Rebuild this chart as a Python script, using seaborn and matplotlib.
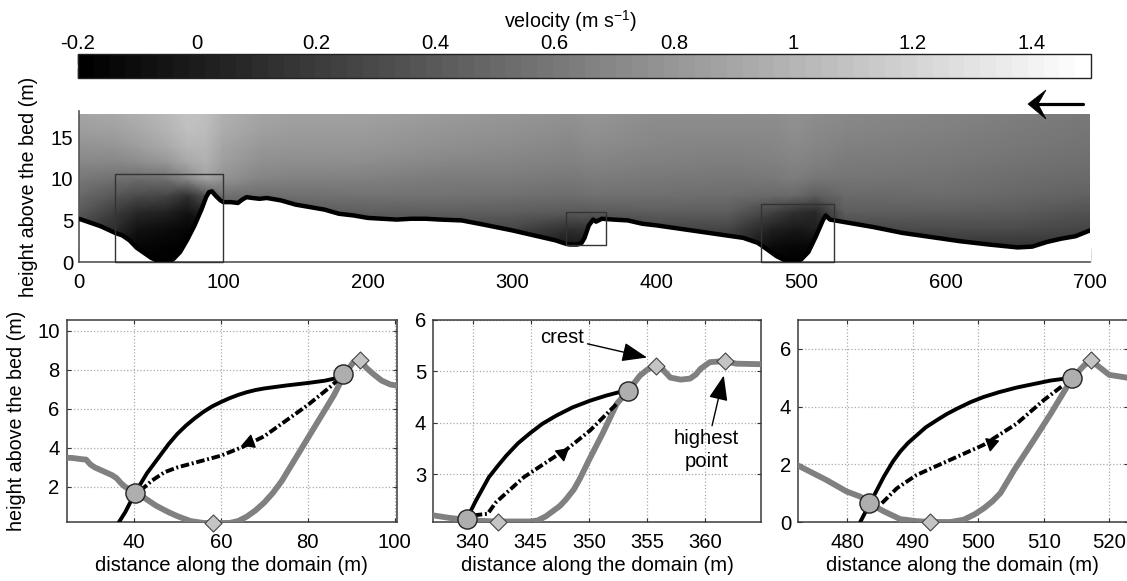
import matplotlib
matplotlib.use('Agg')
import matplotlib.pyplot as plt
import seaborn as sns
import numpy as np
from matplotlib.patches import Rectangle, Polygon
from matplotlib.cm import ScalarMappable
from matplotlib.colors import Normalize

# velocity field (m/s)
field_x = [0, 25, 40, 60, 75, 88, 100, 125, 150, 200, 250, 300, 340, 355, 400, 450, 480, 495, 510, 530, 600, 650, 700]
field_z = [0, 2, 4, 6, 8, 10, 12, 14, 16, 18]
field_v = [
    [-.20, -.20, -.20, -.20, -.20, -.20, -.20, -.20, -.20, -.20, -.20, -.20, -.20, -.20, -.20, -.20, -.20, -.20, -.20, -.20, -.20, -.20, -.20],
    [.05, -.05, -.15, -.18, -.19, -.19, .05, .05, .05, .10, .10, .12, -.05, .00, .12, .12, -.12, -.15, -.15, .12, .15, .15, .15],
    [.24, .10, -.07, -.12, -.16, -.17, .18, .18, .22, .26, .26, .27, .12, .15, .27, .26, .02, -.03, .00, .28, .30, .30, .26],
    [.40, .20, .07, .03, -.07, .05, .36, .35, .40, .43, .43, .43, .40, .40, .43, .42, .24, .12, .07, .42, .43, .41, .35],
    [.50, .38, .30, .27, .13, .35, .55, .52, .55, .57, .56, .55, .53, .55, .54, .53, .50, .50, .42, .51, .52, .49, .45],
    [.60, .55, .52, .55, .70, .88, .78, .68, .66, .65, .62, .62, .60, .62, .60, .59, .60, .63, .59, .58, .56, .53, .50],
    [.70, .70, .73, .80, .92, .98, .85, .76, .74, .74, .70, .68, .66, .68, .65, .64, .65, .68, .65, .62, .60, .57, .54],
    [.78, .80, .85, .93, 1.02, 1.02, .90, .82, .80, .80, .76, .73, .70, .73, .69, .68, .69, .72, .69, .66, .63, .60, .57],
    [.85, .88, .92, 1.00, 1.08, 1.05, .95, .87, .84, .84, .80, .77, .74, .77, .72, .72, .72, .75, .72, .69, .66, .62, .59],
    [.90, .93, .97, 1.03, 1.10, 1.07, .97, .90, .87, .87, .83, .80, .77, .80, .74, .74, .74, .77, .74, .71, .68, .64, .61],
]

# bed along the whole domain
bed_x = [0, 5, 10, 15, 20, 25, 30, 35, 40, 45, 50, 55, 60, 65, 70, 75, 80, 85, 88, 90, 92, 95, 98, 100, 105, 110,
         113, 116, 120, 125, 130, 140, 150, 160, 170, 180, 190, 200, 210, 220, 230, 240, 250, 265, 280, 300, 320,
         330, 337, 340, 345, 348, 350, 353, 356, 358, 362, 370, 380, 390, 400, 420, 440, 460, 470, 475, 483, 490,
         495, 500, 505, 510, 515, 517, 520, 530, 550, 570, 590, 610, 630, 650, 660, 670, 680, 690, 700]
bed_z = [5.2, 4.9, 4.6, 4.3, 3.9, 3.5, 3.2, 2.6, 1.7, 1.1, .5, .1, 0, .3, 1.2, 2.7, 4.4, 6.4, 7.8, 8.4, 8.5, 7.9, 7.4, 7.2, 7.2, 7.1,
         7.5, 7.8, 7.7, 7.6, 7.7, 7.4, 6.9, 6.6, 6.3, 5.8, 5.6, 5.3, 5.2, 5.1, 5.2, 5.2, 5.1, 5.0, 4.5, 3.8, 3.0,
         2.6, 2.2, 2.1, 2.1, 2.3, 2.9, 4.4, 5.1, 4.85, 5.2, 5.1, 5.0, 4.6, 4.4, 3.9, 3.4, 2.9, 2.3, 1.7, .7, .1,
         0, .3, 1.2, 3.0, 5.0, 5.6, 5.1, 4.8, 4.2, 3.5, 3.0, 2.5, 2.1, 1.75, 1.85, 2.4, 2.8, 3.1, 3.8]

# first dune
d1_bed_x = [24.5, 26, 28, 29, 30, 31, 33, 35, 36, 37, 38, 40, 42, 45, 48, 50, 53, 56, 58.5, 62, 64, 66, 68, 70, 72, 74, 77, 80, 83, 86, 88.5, 90.5, 92, 93.5, 95, 97, 99, 100.5]
d1_bed_z = [3.5, 3.48, 3.42, 3.4, 3.15, 3.0, 2.8, 2.6, 2.45, 2.2, 2.0, 1.75, 1.5, 1.05, .7, .5, .25, .15, .15, .15, .25, .48, .8, 1.2, 1.7, 2.3, 3.4, 4.5, 5.6, 6.7, 7.8, 8.4, 8.5, 8.1, 7.8, 7.45, 7.25, 7.2]
d1_top_x = [36.5, 38, 40.3, 43, 46, 48, 50, 52, 54, 56, 58, 60, 62, 64, 66, 68, 70, 75, 80, 84, 86, 88.5]
d1_top_z = [.17, .7, 1.7, 2.7, 3.6, 4.2, 4.72, 5.15, 5.52, 5.85, 6.13, 6.35, 6.55, 6.72, 6.86, 6.97, 7.05, 7.2, 7.33, 7.45, 7.55, 7.8]
d1_mid_x = [41.5, 44, 47, 50, 55, 60, 65, 70, 75, 80, 85, 87.5]
d1_mid_z = [1.8, 2.3, 2.75, 3.0, 3.3, 3.6, 4.05, 4.6, 5.4, 6.2, 7.1, 7.6]

# second dune
d2_bed_x = [336.6, 338, 340, 342, 345, 345.6, 346.3, 346.9, 347.5, 348, 348.7, 349.2, 350, 351.2, 352.4, 353.4, 354.4, 355, 355.7, 356.3, 357, 357.9, 358.7, 359.2, 359.6, 360.4, 361.6, 362.7, 364.8]
d2_bed_z = [2.2, 2.15, 2.1, 2.08, 2.08, 2.1, 2.18, 2.28, 2.38, 2.5, 2.7, 2.9, 3.27, 3.8, 4.37, 4.63, 4.92, 5.03, 5.1, 5.05, 4.88, 4.84, 4.86, 4.94, 5.05, 5.18, 5.2, 5.15, 5.14]
d2_top_x = [339.5, 340.3, 341.4, 342.2, 342.9, 343.9, 344.9, 346, 347.2, 348.6, 350.1, 351.5, 353]
d2_top_z = [2.13, 2.49, 2.94, 3.17, 3.36, 3.6, 3.79, 3.98, 4.14, 4.3, 4.43, 4.53, 4.62]
d2_mid_x = [340.1, 341.3, 342, 344.4, 347.2, 347.8, 350.1, 352.4]
d2_mid_z = [2.2, 2.23, 2.45, 2.94, 3.36, 3.43, 3.85, 4.37]

# third dune
d3_bed_x = [472.4, 474.3, 476.8, 479.9, 482, 483.5, 485.6, 488.1, 490.6, 492.7, 495.8, 497.8, 499.5, 500.9, 502.2, 503.4, 505.5, 508.5, 511.1, 514.4, 516.2, 517.2, 518.5, 520, 522.8]
d3_bed_z = [1.97, 1.75, 1.46, 1.06, .88, .63, .37, .1, .03, 0, 0, .08, .27, .48, .72, 1, 1.8, 2.84, 3.76, 5, 5.43, 5.6, 5.37, 5.1, 5.0]
d3_top_x = [482, 483.5, 485.6, 487, 488.1, 489.3, 490.6, 492, 493.7, 495.2, 496.8, 498.8, 500.8, 503.2, 505.9, 511, 514.3]
d3_top_z = [0, .65, 1.57, 2.1, 2.44, 2.74, 3.0, 3.28, 3.53, 3.74, 3.93, 4.15, 4.33, 4.5, 4.66, 4.9, 5]
d3_mid_x = [485.3, 487.6, 490.6, 495.7, 500.8, 505.9, 510, 513]
d3_mid_z = [.65, 1.17, 1.63, 2.15, 2.67, 3.41, 4.22, 4.74]

# markers of each dune: circles, diamonds, direction triangle
d1_circ_x, d1_circ_z = [40.2, 88.2], [1.7, 7.8]
d1_diam_x, d1_diam_z = [58.2, 92], [.17, 8.5]
d1_tri = (66.5, 4.3, 110)
d2_circ_x, d2_circ_z = [339.5, 353.4], [2.12, 4.62]
d2_diam_x, d2_diam_z = [342.2, 355.8, 361.7], [2.07, 5.1, 5.2]
d2_tri = (347.7, 3.42, -50)
d3_circ_x, d3_circ_z = [483.4, 514.3], [.65, 5]
d3_diam_x, d3_diam_z = [492.6, 517.2], [0, 5.6]
d3_tri = (502, 2.75, 170)

cbar_ticks = [-0.2, 0, 0.2, 0.4, 0.6, 0.8, 1, 1.2, 1.4]
cbar_labels = ['-0.2', '0', '0.2', '0.4', '0.6', '0.8', '1', '1.2', '1.4']

sns.set_style('white')
plt.rcParams['font.family'] = ['Liberation Sans', 'DejaVu Sans']
plt.rcParams['mathtext.default'] = 'regular'
for key in ['text.color', 'axes.labelcolor', 'xtick.color', 'ytick.color']:
    plt.rcParams[key] = 'black'
FS = 14.6
EDGE = '#3a3a3a'
W, H = 1127, 581

fig = plt.figure(figsize=(W / 100, H / 100), dpi=100)


def px_axes(x0, y0, x1, y1):
    # axes from pixel box, y measured from the top of the image
    return fig.add_axes([x0 / W, 1 - y1 / H, (x1 - x0) / W, (y1 - y0) / H])


# colorbar
cax = px_axes(78, 54, 1091, 78)
sm = ScalarMappable(norm=Normalize(-0.2, 1.5), cmap=plt.get_cmap('gray', 64))
cb = fig.colorbar(sm, cax=cax, orientation='horizontal', ticks=cbar_ticks)
cb.ax.set_xticklabels(cbar_labels)
cb.ax.xaxis.set_ticks_position('both')
cb.ax.xaxis.set_label_position('top')
cb.ax.tick_params(axis='x', direction='in', length=7, width=1, color='#111111', labeltop=True, labelbottom=False, labelsize=FS, pad=1)
cb.outline.set_edgecolor('#222222')
cb.outline.set_linewidth(1)
fig.text(570 / W, 1 - 21 / H, 'velocity (m s$^{-1}$)', ha='center', va='center', fontsize=FS - 0.5)

# main panel
ax = px_axes(79, 114, 1090, 262)
ax.pcolormesh(field_x, field_z, np.array(field_v), shading='gouraud', cmap='gray', vmin=-0.2, vmax=1.5, rasterized=True)
ax.fill_between(bed_x, -1, bed_z, color='white', zorder=2)
sns.lineplot(x=bed_x, y=bed_z, ax=ax, color='black', linewidth=3.2, sort=False, estimator=None, zorder=3)
for x0, z0, w, h in [(25, 0, 75, 10.6), (337, 2.07, 28, 3.93), (472, 0, 51, 7)]:
    ax.add_patch(Rectangle((x0, z0), w, h, fill=False, edgecolor='#333333', linewidth=1, zorder=4, clip_on=False))
ax.set_xlim(0, 700)
ax.set_ylim(0, 17.8)
ax.set_xticks(range(0, 701, 100))
ax.set_yticks([0, 5, 10, 15])
ax.tick_params(axis='both', labelsize=FS)
ax.tick_params(axis='x', direction='in', length=10, width=1, color='#555555', bottom=True, pad=8)
ax.tick_params(axis='y', direction='in', length=0, pad=4)
sns.despine(ax=ax, top=True, right=True)
for s in ['left', 'bottom']:
    ax.spines[s].set_color('#555555')
    ax.spines[s].set_linewidth(1.2)
ax.spines['left'].set_bounds(0, 18.2)
ax.spines['left'].set_clip_on(False)
fig.text(29 / W, 1 - 187 / H, 'height above the bed (m)', rotation=90, ha='center', va='center', fontsize=FS - 0.4)

# flow direction arrow
fig.add_artist(plt.Line2D([1083 / W, 1038 / W], [1 - 104 / H, 1 - 104 / H], transform=fig.transFigure, color='black', linewidth=2.3))
head_px = [(1028, 104), (1046, 90), (1038, 104), (1046, 119)]
fig.add_artist(Polygon([(px / W, 1 - py / H) for px, py in head_px], closed=True, transform=fig.transFigure, facecolor='black', edgecolor='black', linewidth=0.5))


def dune_panel(box, xlim, ylim, xticks, yticks, bed, top, mid, circ, diam, tri):
    a = px_axes(*box)
    sns.lineplot(x=bed[0], y=bed[1], ax=a, color='#808080', linewidth=4.2, sort=False, estimator=None, zorder=3)
    sns.lineplot(x=top[0], y=top[1], ax=a, color='black', linewidth=2.8, sort=False, estimator=None, zorder=4)
    sns.lineplot(x=mid[0], y=mid[1], ax=a, color='black', linewidth=2.8, sort=False, estimator=None, zorder=4,
                 linestyle=(0, (2.2, 0.7, 0.5, 0.7)))
    sns.scatterplot(x=diam[0], y=diam[1], ax=a, marker='D', s=75, color='#c4c4c4', edgecolor='#444444', linewidth=0.8, zorder=5, clip_on=False)
    sns.scatterplot(x=circ[0], y=circ[1], ax=a, marker='o', s=190, color='#aeaeae', edgecolor='#222222', linewidth=1, zorder=6, clip_on=False)
    a.scatter([tri[0]], [tri[1]], marker=(3, 0, tri[2]), s=110, color='black', zorder=6)
    a.set_xlim(*xlim)
    a.set_ylim(*ylim)
    a.set_xticks(xticks)
    a.set_yticks(yticks)
    a.grid(True, linestyle=':', linewidth=0.9, color='#aaaaaa')
    a.set_axisbelow(True)
    a.tick_params(axis='both', direction='in', length=3, width=0.8, color='#333333', top=True, right=True, bottom=True, left=True, labelsize=FS)
    a.tick_params(axis='x', pad=8)
    a.tick_params(axis='y', pad=5)
    for s in a.spines.values():
        s.set_color(EDGE)
        s.set_linewidth(1.1)
    a.set_xlabel('distance along the domain (m)', fontsize=FS, labelpad=3)
    return a


ax1 = dune_panel((66.5, 320, 396.5, 522), (24.5, 100.4), (0.2, 10.56), [40, 60, 80, 100], [2, 4, 6, 8, 10],
                 (d1_bed_x, d1_bed_z), (d1_top_x, d1_top_z), (d1_mid_x, d1_mid_z),
                 (d1_circ_x, d1_circ_z), (d1_diam_x, d1_diam_z), d1_tri)
ax2 = dune_panel((433, 320, 761, 522), (336.6, 364.8), (2.07, 6), [340, 345, 350, 355, 360], [3, 4, 5, 6],
                 (d2_bed_x, d2_bed_z), (d2_top_x, d2_top_z), (d2_mid_x, d2_mid_z),
                 (d2_circ_x, d2_circ_z), (d2_diam_x, d2_diam_z), d2_tri)
ax3 = dune_panel((798, 320, 1127.5, 522), (472.5, 522.8), (0, 7), [480, 490, 500, 510, 520], [0, 2, 4, 6],
                 (d3_bed_x, d3_bed_z), (d3_top_x, d3_top_z), (d3_mid_x, d3_mid_z),
                 (d3_circ_x, d3_circ_z), (d3_diam_x, d3_diam_z), d3_tri)
fig.text(17 / W, 1 - 421 / H, 'height above the bed (m)', rotation=90, ha='center', va='center', fontsize=FS - 0.4)

arrow_style = dict(arrowstyle='-|>,head_length=1.1,head_width=0.42', color='black', linewidth=1, shrinkA=0, shrinkB=0, mutation_scale=14)
ax2.annotate('crest', xy=(355, 5.27), xytext=(349.6, 5.65), fontsize=FS, ha='right', va='center', arrowprops=arrow_style, zorder=7)
ax2.annotate('highest\npoint', xy=(361.6, 4.92), xytext=(360.1, 3.88), fontsize=FS, ha='center', va='top', linespacing=1.3, arrowprops=arrow_style, zorder=7)

fig.savefig('out.png', dpi=100)
